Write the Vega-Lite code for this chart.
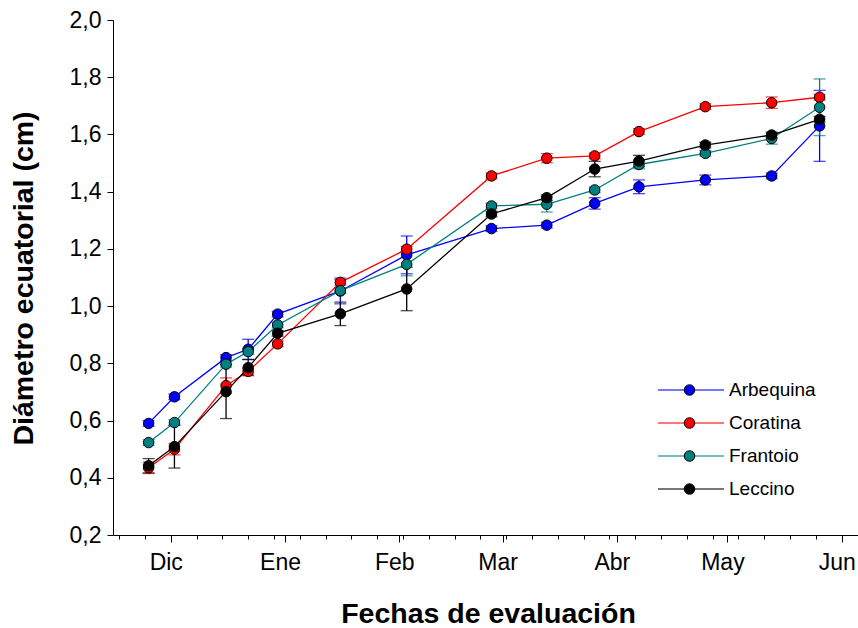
{
  "$schema": "https://vega.github.io/schema/vega-lite/v6.json",
  "width": 745,
  "height": 515,
  "autosize": {"type": "none"},
  "padding": {"left": 113, "top": 20, "right": 0, "bottom": 93},
  "background": "white",
  "config": {
    "view": {"stroke": null},
    "font": "Liberation Sans",
    "axis": {"labelFont": "Liberation Sans", "titleFont": "Liberation Sans", "labelColor": "black", "titleColor": "black", "domainColor": "black", "tickColor": "black", "grid": false}
  },
  "data": {
    "values": [
      {"fecha": "2014-11-25", "variedad": "Arbequina", "valor": 0.590, "error": 0.01},
      {"fecha": "2014-12-02", "variedad": "Arbequina", "valor": 0.683, "error": 0.01},
      {"fecha": "2014-12-16", "variedad": "Arbequina", "valor": 0.820, "error": 0.01},
      {"fecha": "2014-12-22", "variedad": "Arbequina", "valor": 0.849, "error": 0.035},
      {"fecha": "2014-12-30", "variedad": "Arbequina", "valor": 0.972, "error": 0.01},
      {"fecha": "2015-01-16", "variedad": "Arbequina", "valor": 1.053, "error": 0.045},
      {"fecha": "2015-02-03", "variedad": "Arbequina", "valor": 1.179, "error": 0.066},
      {"fecha": "2015-02-26", "variedad": "Arbequina", "valor": 1.271, "error": 0.01},
      {"fecha": "2015-03-13", "variedad": "Arbequina", "valor": 1.283, "error": 0.01},
      {"fecha": "2015-03-26", "variedad": "Arbequina", "valor": 1.359, "error": 0.02},
      {"fecha": "2015-04-07", "variedad": "Arbequina", "valor": 1.417, "error": 0.024},
      {"fecha": "2015-04-25", "variedad": "Arbequina", "valor": 1.441, "error": 0.017},
      {"fecha": "2015-05-13", "variedad": "Arbequina", "valor": 1.455, "error": 0.01},
      {"fecha": "2015-05-26", "variedad": "Arbequina", "valor": 1.630, "error": 0.124},
      {"fecha": "2014-11-25", "variedad": "Coratina", "valor": 0.435, "error": 0.02},
      {"fecha": "2014-12-02", "variedad": "Coratina", "valor": 0.500, "error": 0.02},
      {"fecha": "2014-12-16", "variedad": "Coratina", "valor": 0.722, "error": 0.027},
      {"fecha": "2014-12-22", "variedad": "Coratina", "valor": 0.772, "error": 0.01},
      {"fecha": "2014-12-30", "variedad": "Coratina", "valor": 0.868, "error": 0.01},
      {"fecha": "2015-01-16", "variedad": "Coratina", "valor": 1.083, "error": 0.01},
      {"fecha": "2015-02-03", "variedad": "Coratina", "valor": 1.199, "error": 0.01},
      {"fecha": "2015-02-26", "variedad": "Coratina", "valor": 1.455, "error": 0.01},
      {"fecha": "2015-03-13", "variedad": "Coratina", "valor": 1.517, "error": 0.016},
      {"fecha": "2015-03-26", "variedad": "Coratina", "valor": 1.525, "error": 0.01},
      {"fecha": "2015-04-07", "variedad": "Coratina", "valor": 1.610, "error": 0.01},
      {"fecha": "2015-04-25", "variedad": "Coratina", "valor": 1.697, "error": 0.01},
      {"fecha": "2015-05-13", "variedad": "Coratina", "valor": 1.711, "error": 0.02},
      {"fecha": "2015-05-26", "variedad": "Coratina", "valor": 1.730, "error": 0.01},
      {"fecha": "2014-11-25", "variedad": "Frantoio", "valor": 0.523, "error": 0.01},
      {"fecha": "2014-12-02", "variedad": "Frantoio", "valor": 0.593, "error": 0.01},
      {"fecha": "2014-12-16", "variedad": "Frantoio", "valor": 0.797, "error": 0.01},
      {"fecha": "2014-12-22", "variedad": "Frantoio", "valor": 0.841, "error": 0.01},
      {"fecha": "2014-12-30", "variedad": "Frantoio", "valor": 0.934, "error": 0.01},
      {"fecha": "2015-01-16", "variedad": "Frantoio", "valor": 1.054, "error": 0.01},
      {"fecha": "2015-02-03", "variedad": "Frantoio", "valor": 1.146, "error": 0.04},
      {"fecha": "2015-02-26", "variedad": "Frantoio", "valor": 1.350, "error": 0.01},
      {"fecha": "2015-03-13", "variedad": "Frantoio", "valor": 1.356, "error": 0.027},
      {"fecha": "2015-03-26", "variedad": "Frantoio", "valor": 1.406, "error": 0.01},
      {"fecha": "2015-04-07", "variedad": "Frantoio", "valor": 1.495, "error": 0.015},
      {"fecha": "2015-04-25", "variedad": "Frantoio", "valor": 1.534, "error": 0.01},
      {"fecha": "2015-05-13", "variedad": "Frantoio", "valor": 1.586, "error": 0.02},
      {"fecha": "2015-05-26", "variedad": "Frantoio", "valor": 1.695, "error": 0.099},
      {"fecha": "2014-11-25", "variedad": "Leccino", "valor": 0.442, "error": 0.025},
      {"fecha": "2014-12-02", "variedad": "Leccino", "valor": 0.509, "error": 0.075},
      {"fecha": "2014-12-16", "variedad": "Leccino", "valor": 0.701, "error": 0.094},
      {"fecha": "2014-12-22", "variedad": "Leccino", "valor": 0.785, "error": 0.028},
      {"fecha": "2014-12-30", "variedad": "Leccino", "valor": 0.905, "error": 0.01},
      {"fecha": "2015-01-16", "variedad": "Leccino", "valor": 0.973, "error": 0.041},
      {"fecha": "2015-02-03", "variedad": "Leccino", "valor": 1.060, "error": 0.076},
      {"fecha": "2015-02-26", "variedad": "Leccino", "valor": 1.322, "error": 0.01},
      {"fecha": "2015-03-13", "variedad": "Leccino", "valor": 1.379, "error": 0.01},
      {"fecha": "2015-03-26", "variedad": "Leccino", "valor": 1.479, "error": 0.027},
      {"fecha": "2015-04-07", "variedad": "Leccino", "valor": 1.507, "error": 0.02},
      {"fecha": "2015-04-25", "variedad": "Leccino", "valor": 1.563, "error": 0.01},
      {"fecha": "2015-05-13", "variedad": "Leccino", "valor": 1.598, "error": 0.01},
      {"fecha": "2015-05-26", "variedad": "Leccino", "valor": 1.653, "error": 0.01}
    ]
  },
  "layer": [
    {
      "mark": {"type": "errorbar", "ticks": {"size": 12}, "thickness": 1.3},
      "encoding": {
        "x": {
          "field": "fecha", "type": "temporal",
          "scale": {"type": "utc", "domain": [{"year": 2014, "month": 11, "date": 15, "hours": 8, "utc": true}, {"year": 2015, "month": 6, "date": 5, "hours": 10, "utc": true}]},
          "axis": {
            "orient": "bottom",
            "values": [
              {"year": 2014, "month": 12, "date": 1, "utc": true},
              {"year": 2015, "month": 1, "date": 1, "utc": true},
              {"year": 2015, "month": 2, "date": 1, "utc": true},
              {"year": 2015, "month": 3, "date": 1, "utc": true},
              {"year": 2015, "month": 4, "date": 1, "utc": true},
              {"year": 2015, "month": 5, "date": 1, "utc": true},
              {"year": 2015, "month": 6, "date": 1, "utc": true}
            ],
            "labelExpr": "['Ene','Feb','Mar','Abr','May','Jun','Jul','Ago','Sep','Oct','Nov','Dic'][utcmonth(datum.value)]",
            "tickSize": 7, "tickWidth": 1, "domainWidth": 1,
            "labelFontSize": 23, "labelPadding": 9, "labelOffset": -5, "labelFlush": false, "labelOverlap": false,
            "title": "Fechas de evaluación", "titleFontSize": 28.5, "titleFontWeight": "bold",
            "titleX": 375, "titleY": 78, "titleBaseline": "middle", "titleAlign": "center"
          }
        },
        "y": {
          "field": "valor", "type": "quantitative",
          "scale": {"domain": [0.2, 2.0], "nice": false, "zero": false},
          "axis": {
            "values": [0.2, 0.4, 0.6, 0.8, 1.0, 1.2, 1.4, 1.6, 1.8, 2.0],
            "labelExpr": "replace(format(datum.value, '.1f'), '.', ',')",
            "tickSize": 6, "tickWidth": 1, "domainWidth": 1,
            "labelFontSize": 23, "labelPadding": 6, "labelFlush": false, "labelOverlap": false,
            "title": "Diámetro ecuatorial (cm)", "titleFontSize": 28.5, "titleFontWeight": "bold",
            "titleX": -90, "titleY": 258, "titleBaseline": "middle", "titleAlign": "center", "titleAngle": 270
          }
        },
        "yError": {"field": "error"},
        "color": {
          "field": "variedad", "type": "nominal", "scale": {"range": ["#0000FF", "#FF0000", "#008080", "#000000"]},
          "legend": {
            "orient": "none", "legendX": 544, "legendY": 359, "title": null, "padding": 0,
            "symbolType": "stroke", "symbolSize": 4356, "symbolStrokeWidth": 1.3,
            "clipHeight": 22, "rowPadding": 11, "labelExpr": "''", "labelFontSize": 19
          }
        }
      }
    },
    {
      "mark": {"type": "line", "strokeWidth": 1.3},
      "encoding": {
        "x": {"field": "fecha", "type": "temporal", "axis": null},
        "y": {"field": "valor", "type": "quantitative"},
        "color": {
          "field": "variedad", "type": "nominal",
          "legend": {
            "orient": "none", "legendX": 544, "legendY": 359, "title": null, "padding": 0,
            "symbolType": "stroke", "symbolSize": 4356, "symbolStrokeWidth": 1.3,
            "clipHeight": 22, "rowPadding": 11, "labelExpr": "''", "labelFontSize": 19
          }
        }
      }
    },
    {
      "mark": {"type": "point", "filled": true, "size": 110, "stroke": "black", "strokeWidth": 1, "opacity": 1},
      "encoding": {
        "x": {
          "field": "fecha", "type": "temporal",
          "axis": {
            "orient": "bottom",
            "values": [
              {"year": 2014, "month": 11, "date": 17, "utc": true},
              {"year": 2014, "month": 11, "date": 24, "utc": true},
              {"year": 2014, "month": 12, "date": 1, "utc": true},
              {"year": 2014, "month": 12, "date": 8, "utc": true},
              {"year": 2014, "month": 12, "date": 15, "utc": true},
              {"year": 2014, "month": 12, "date": 22, "utc": true},
              {"year": 2014, "month": 12, "date": 29, "utc": true},
              {"year": 2015, "month": 1, "date": 5, "utc": true},
              {"year": 2015, "month": 1, "date": 12, "utc": true},
              {"year": 2015, "month": 1, "date": 19, "utc": true},
              {"year": 2015, "month": 1, "date": 26, "utc": true},
              {"year": 2015, "month": 2, "date": 2, "utc": true},
              {"year": 2015, "month": 2, "date": 9, "utc": true},
              {"year": 2015, "month": 2, "date": 16, "utc": true},
              {"year": 2015, "month": 2, "date": 23, "utc": true},
              {"year": 2015, "month": 3, "date": 2, "utc": true},
              {"year": 2015, "month": 3, "date": 9, "utc": true},
              {"year": 2015, "month": 3, "date": 16, "utc": true},
              {"year": 2015, "month": 3, "date": 23, "utc": true},
              {"year": 2015, "month": 3, "date": 30, "utc": true},
              {"year": 2015, "month": 4, "date": 6, "utc": true},
              {"year": 2015, "month": 4, "date": 13, "utc": true},
              {"year": 2015, "month": 4, "date": 20, "utc": true},
              {"year": 2015, "month": 4, "date": 27, "utc": true},
              {"year": 2015, "month": 5, "date": 4, "utc": true},
              {"year": 2015, "month": 5, "date": 11, "utc": true},
              {"year": 2015, "month": 5, "date": 18, "utc": true},
              {"year": 2015, "month": 5, "date": 25, "utc": true},
              {"year": 2015, "month": 6, "date": 1, "utc": true}
            ],
            "labels": false, "domain": false, "tickSize": 4, "tickWidth": 1, "title": null
          }
        },
        "y": {"field": "valor", "type": "quantitative"},
        "fill": {
          "field": "variedad", "type": "nominal",
          "scale": {"domain": ["Arbequina", "Coratina", "Frantoio", "Leccino"], "range": ["#0000FF", "#FF0000", "#008080", "#000000"]},
          "legend": {
            "orient": "none", "legendX": 567, "legendY": 359, "title": null, "padding": 0,
            "symbolType": "circle", "symbolSize": 110, "symbolStrokeColor": "black", "symbolStrokeWidth": 1,
            "clipHeight": 22, "rowPadding": 11, "labelOffset": 30, "labelFontSize": 19, "labelFont": "Liberation Sans", "labelColor": "black"
          }
        }
      }
    }
  ],
  "resolve": {"axis": {"x": "independent"}}
}
